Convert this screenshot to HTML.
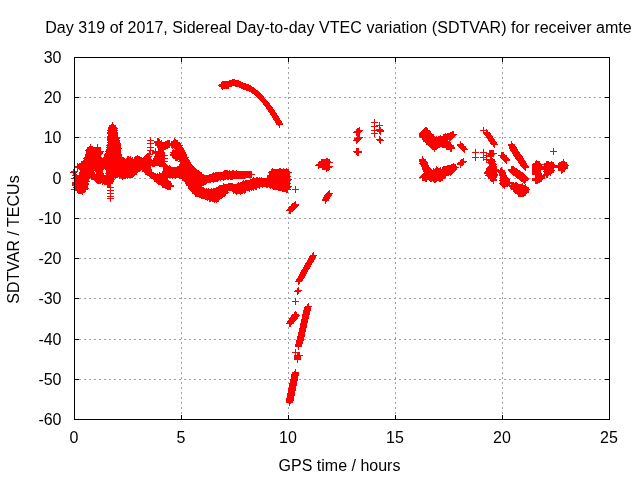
<!DOCTYPE html>
<html><head><meta charset="utf-8"><title>SDTVAR</title>
<style>html,body{margin:0;padding:0;background:#fff}body{width:640px;height:480px;overflow:hidden}</style>
</head><body>
<svg width="640" height="480" viewBox="0 0 640 480" style="display:block">
<rect width="640" height="480" fill="#fff"/>
<path d="M181.5 57V420M288.5 57V420M395.5 57V420M502.5 57V420M74 97.5H610M74 137.5H610M74 178.5H610M74 218.5H610M74 258.5H610M74 298.5H610M74 339.5H610M74 379.5H610" stroke="#a0a0a0" stroke-width="1" stroke-dasharray="2 3" fill="none" shape-rendering="crispEdges"/>
<path d="M74.5 420v-5M74.5 57v5M181.5 420v-5M181.5 57v5M288.5 420v-5M288.5 57v5M395.5 420v-5M395.5 57v5M502.5 420v-5M502.5 57v5M609.5 420v-5M609.5 57v5M74 57.5h5M610 57.5h-5M74 97.5h5M610 97.5h-5M74 137.5h5M610 137.5h-5M74 178.5h5M610 178.5h-5M74 218.5h5M610 218.5h-5M74 258.5h5M610 258.5h-5M74 298.5h5M610 298.5h-5M74 339.5h5M610 339.5h-5M74 379.5h5M610 379.5h-5M74 419.5h5M610 419.5h-5" stroke="#000" stroke-width="1" fill="none" shape-rendering="crispEdges"/>
<path d="M74 179.5h7M77.5 176v7M74 182.5h7M77.5 179v7M74 185.5h7M77.5 182v7M74 188.5h7M77.5 185v7M75 178.5h7M78.5 175v7M75 183.5h7M78.5 180v7M75 187.5h7M78.5 184v7M76 166.5h7M79.5 163v7M76 177.5h7M79.5 174v7M76 189.5h7M79.5 186v7M77 167.5h7M80.5 164v7M78 165.5h7M81.5 162v7M78 175.5h7M81.5 172v7M78 180.5h7M81.5 177v7M78 184.5h7M81.5 181v7M78 190.5h7M81.5 187v7M79 169.5h7M82.5 166v7M79 176.5h7M82.5 173v7M79 181.5h7M82.5 178v7M79 186.5h7M82.5 183v7M80 163.5h7M83.5 160v7M80 170.5h7M83.5 167v7M80 185.5h7M83.5 182v7M81 162.5h7M84.5 159v7M81 171.5h7M84.5 168v7M81 179.5h7M84.5 176v7M82 161.5h7M85.5 158v7M82 166.5h7M85.5 163v7M82 174.5h7M85.5 171v7M83 167.5h7M86.5 164v7M83 175.5h7M86.5 172v7M84 157.5h7M87.5 154v7M84 170.5h7M87.5 167v7M85 154.5h7M88.5 151v7M85 159.5h7M88.5 156v7M85 165.5h7M88.5 162v7M85 176.5h7M88.5 173v7M86 150.5h7M89.5 147v7M86 158.5h7M89.5 155v7M86 163.5h7M89.5 160v7M86 169.5h7M89.5 166v7M87 148.5h7M90.5 145v7M87 153.5h7M90.5 150v7M87 164.5h7M90.5 161v7M87 171.5h7M90.5 168v7M88 149.5h7M91.5 146v7M88 160.5h7M91.5 157v7M88 170.5h7M91.5 167v7M88 175.5h7M91.5 172v7M89 154.5h7M92.5 151v7M89 165.5h7M92.5 162v7M89 174.5h7M92.5 171v7M90 155.5h7M93.5 152v7M90 161.5h7M93.5 158v7M90 166.5h7M93.5 163v7M90 176.5h7M93.5 173v7M91 151.5h7M94.5 148v7M91 156.5h7M94.5 153v7M92 159.5h7M95.5 156v7M92 167.5h7M95.5 164v7M92 177.5h7M95.5 174v7M93 152.5h7M96.5 149v7M93 160.5h7M96.5 157v7M93 168.5h7M96.5 165v7M93 175.5h7M96.5 172v7M94 153.5h7M97.5 150v7M94 161.5h7M97.5 158v7M94 169.5h7M97.5 166v7M94 176.5h7M97.5 173v7M95 151.5h7M98.5 148v7M95 163.5h7M98.5 160v7M95 179.5h7M98.5 176v7M96 158.5h7M99.5 155v7M96 164.5h7M99.5 161v7M96 170.5h7M99.5 167v7M97 159.5h7M100.5 156v7M97 165.5h7M100.5 162v7M97 177.5h7M100.5 174v7M98 168.5h7M101.5 165v7M98 176.5h7M101.5 173v7M99 161.5h7M102.5 158v7M99 178.5h7M102.5 175v7M100 160.5h7M103.5 157v7M100 166.5h7M103.5 163v7M100 180.5h7M103.5 177v7M101 159.5h7M104.5 156v7M102 163.5h7M105.5 160v7M102 179.5h7M105.5 176v7M103 157.5h7M106.5 154v7M103 164.5h7M106.5 161v7M103 168.5h7M106.5 165v7M103 176.5h7M106.5 173v7M103 181.5h7M106.5 178v7M104 156.5h7M107.5 153v7M104 165.5h7M107.5 162v7M104 175.5h7M107.5 172v7M104 182.5h7M107.5 179v7M105 153.5h7M108.5 150v7M105 158.5h7M108.5 155v7M105 167.5h7M108.5 164v7M106 149.5h7M109.5 146v7M106 160.5h7M109.5 157v7M106 169.5h7M109.5 166v7M106 177.5h7M109.5 174v7M107 145.5h7M110.5 142v7M107 151.5h7M110.5 148v7M107 161.5h7M110.5 158v7M107 170.5h7M110.5 167v7M107 178.5h7M110.5 175v7M108 127.5h7M111.5 124v7M108 130.5h7M111.5 127v7M108 133.5h7M111.5 130v7M108 136.5h7M111.5 133v7M108 139.5h7M111.5 136v7M108 143.5h7M111.5 140v7M108 154.5h7M111.5 151v7M108 162.5h7M111.5 159v7M108 171.5h7M111.5 168v7M109 125.5h7M112.5 122v7M109 129.5h7M112.5 126v7M109 134.5h7M112.5 131v7M109 138.5h7M112.5 135v7M109 144.5h7M112.5 141v7M109 150.5h7M112.5 147v7M109 155.5h7M112.5 152v7M109 164.5h7M112.5 161v7M109 173.5h7M112.5 170v7M110 140.5h7M113.5 137v7M110 147.5h7M113.5 144v7M110 156.5h7M113.5 153v7M110 165.5h7M113.5 162v7M110 174.5h7M113.5 171v7M111 148.5h7M114.5 145v7M111 158.5h7M114.5 155v7M111 166.5h7M114.5 163v7M112 137.5h7M115.5 134v7M112 142.5h7M115.5 139v7M112 151.5h7M115.5 148v7M112 159.5h7M115.5 156v7M112 168.5h7M115.5 165v7M113 141.5h7M116.5 138v7M113 152.5h7M116.5 149v7M113 160.5h7M116.5 157v7M113 169.5h7M116.5 166v7M114 153.5h7M117.5 150v7M114 162.5h7M117.5 159v7M114 170.5h7M117.5 167v7M115 155.5h7M118.5 152v7M115 163.5h7M118.5 160v7M115 172.5h7M118.5 169v7M116 157.5h7M119.5 154v7M116 164.5h7M119.5 161v7M116 173.5h7M119.5 170v7M117 158.5h7M120.5 155v7M117 166.5h7M120.5 163v7M117 174.5h7M120.5 171v7M118 159.5h7M121.5 156v7M118 167.5h7M121.5 164v7M119 162.5h7M122.5 159v7M119 168.5h7M122.5 165v7M119 175.5h7M122.5 172v7M120 163.5h7M123.5 160v7M120 170.5h7M123.5 167v7M121 171.5h7M124.5 168v7M122 164.5h7M125.5 161v7M122 174.5h7M125.5 171v7M123 161.5h7M126.5 158v7M123 165.5h7M126.5 162v7M124 160.5h7M127.5 157v7M124 166.5h7M127.5 163v7M124 172.5h7M127.5 169v7M125 168.5h7M128.5 165v7M126 162.5h7M129.5 159v7M126 169.5h7M129.5 166v7M126 173.5h7M129.5 170v7M127 161.5h7M130.5 158v7M127 174.5h7M130.5 171v7M128 163.5h7M131.5 160v7M128 170.5h7M131.5 167v7M129 165.5h7M132.5 162v7M130 166.5h7M133.5 163v7M130 172.5h7M133.5 169v7M131 161.5h7M134.5 158v7M131 171.5h7M134.5 168v7M132 160.5h7M135.5 157v7M132 167.5h7M135.5 164v7M133 159.5h7M136.5 156v7M134 163.5h7M137.5 160v7M134 169.5h7M137.5 166v7M135 164.5h7M138.5 161v7M136 159.5h7M139.5 156v7M136 165.5h7M139.5 162v7M137 160.5h7M140.5 157v7M139 161.5h7M142.5 158v7M139 166.5h7M142.5 163v7M140 162.5h7M143.5 159v7M140 167.5h7M143.5 164v7M141 159.5h7M144.5 156v7M141 168.5h7M144.5 165v7M142 158.5h7M145.5 155v7M143 157.5h7M146.5 154v7M143 163.5h7M146.5 160v7M143 169.5h7M146.5 166v7M144 162.5h7M147.5 159v7M144 170.5h7M147.5 167v7M145 164.5h7M148.5 161v7M145 171.5h7M148.5 168v7M146 160.5h7M149.5 157v7M146 173.5h7M149.5 170v7M147 165.5h7M150.5 162v7M147 174.5h7M150.5 171v7M149 175.5h7M152.5 172v7M150 176.5h7M153.5 173v7M151 160.5h7M154.5 157v7M151 177.5h7M154.5 174v7M152 151.5h7M155.5 148v7M152 161.5h7M155.5 158v7M153 162.5h7M156.5 159v7M153 178.5h7M156.5 175v7M154 141.5h7M157.5 138v7M154 156.5h7M157.5 153v7M154 179.5h7M157.5 176v7M155 142.5h7M158.5 139v7M155 145.5h7M158.5 142v7M155 152.5h7M158.5 149v7M155 157.5h7M158.5 154v7M155 177.5h7M158.5 174v7M156 143.5h7M159.5 140v7M156 151.5h7M159.5 148v7M156 158.5h7M159.5 155v7M156 181.5h7M159.5 178v7M157 160.5h7M160.5 157v7M157 176.5h7M160.5 173v7M158 144.5h7M161.5 141v7M158 161.5h7M161.5 158v7M158 180.5h7M161.5 177v7M159 145.5h7M162.5 142v7M159 175.5h7M162.5 172v7M159 182.5h7M162.5 179v7M160 146.5h7M163.5 143v7M160 165.5h7M163.5 162v7M160 173.5h7M163.5 170v7M160 181.5h7M163.5 178v7M161 174.5h7M164.5 171v7M161 184.5h7M164.5 181v7M162 144.5h7M165.5 141v7M162 177.5h7M165.5 174v7M162 185.5h7M165.5 182v7M163 168.5h7M166.5 165v7M164 143.5h7M167.5 140v7M164 169.5h7M167.5 166v7M164 183.5h7M167.5 180v7M165 170.5h7M168.5 167v7M165 184.5h7M168.5 181v7M166 144.5h7M169.5 141v7M166 172.5h7M169.5 169v7M166 185.5h7M169.5 182v7M167 173.5h7M170.5 170v7M168 174.5h7M171.5 171v7M169 144.5h7M172.5 141v7M169 170.5h7M172.5 167v7M170 143.5h7M173.5 140v7M171 142.5h7M174.5 139v7M171 153.5h7M174.5 150v7M171 171.5h7M174.5 168v7M172 146.5h7M175.5 143v7M172 150.5h7M175.5 147v7M172 154.5h7M175.5 151v7M172 172.5h7M175.5 169v7M173 147.5h7M176.5 144v7M173 155.5h7M176.5 152v7M173 170.5h7M176.5 167v7M174 148.5h7M177.5 145v7M174 174.5h7M177.5 171v7M175 151.5h7M178.5 148v7M175 169.5h7M178.5 166v7M176 152.5h7M179.5 149v7M176 156.5h7M179.5 153v7M176 173.5h7M179.5 170v7M177 155.5h7M180.5 152v7M177 166.5h7M180.5 163v7M178 150.5h7M181.5 147v7M178 157.5h7M181.5 154v7M178 167.5h7M181.5 164v7M178 172.5h7M181.5 169v7M179 159.5h7M182.5 156v7M179 168.5h7M182.5 165v7M179 175.5h7M182.5 172v7M180 154.5h7M183.5 151v7M180 160.5h7M183.5 157v7M180 170.5h7M183.5 167v7M180 176.5h7M183.5 173v7M181 161.5h7M184.5 158v7M181 177.5h7M184.5 174v7M182 163.5h7M185.5 160v7M182 169.5h7M185.5 166v7M182 179.5h7M185.5 176v7M183 164.5h7M186.5 161v7M183 171.5h7M186.5 168v7M183 180.5h7M186.5 177v7M184 165.5h7M187.5 162v7M184 172.5h7M187.5 169v7M184 181.5h7M187.5 178v7M185 173.5h7M188.5 170v7M186 166.5h7M189.5 163v7M186 175.5h7M189.5 172v7M186 182.5h7M189.5 179v7M187 167.5h7M190.5 164v7M187 176.5h7M190.5 173v7M187 183.5h7M190.5 180v7M188 168.5h7M191.5 165v7M188 177.5h7M191.5 174v7M188 184.5h7M191.5 181v7M188 187.5h7M191.5 184v7M189 170.5h7M192.5 167v7M189 186.5h7M192.5 183v7M190 171.5h7M193.5 168v7M190 178.5h7M193.5 175v7M190 188.5h7M193.5 185v7M191 172.5h7M194.5 169v7M191 179.5h7M194.5 176v7M191 190.5h7M194.5 187v7M192 174.5h7M195.5 171v7M192 180.5h7M195.5 177v7M192 191.5h7M195.5 188v7M193 182.5h7M196.5 179v7M193 192.5h7M196.5 189v7M194 173.5h7M197.5 170v7M194 183.5h7M197.5 180v7M194 187.5h7M197.5 184v7M195 175.5h7M198.5 172v7M195 184.5h7M198.5 181v7M195 193.5h7M198.5 190v7M196 174.5h7M199.5 171v7M196 178.5h7M199.5 175v7M196 188.5h7M199.5 185v7M197 177.5h7M200.5 174v7M197 189.5h7M200.5 186v7M197 194.5h7M200.5 191v7M198 179.5h7M201.5 176v7M199 181.5h7M202.5 178v7M199 190.5h7M202.5 187v7M200 191.5h7M203.5 188v7M200 195.5h7M203.5 192v7M201 178.5h7M204.5 175v7M201 192.5h7M204.5 189v7M202 179.5h7M205.5 176v7M203 180.5h7M206.5 177v7M203 193.5h7M206.5 190v7M204 194.5h7M207.5 191v7M205 178.5h7M208.5 175v7M205 192.5h7M208.5 189v7M205 196.5h7M208.5 193v7M206 177.5h7M209.5 174v7M206 197.5h7M209.5 194v7M207 179.5h7M210.5 176v7M208 192.5h7M211.5 189v7M209 176.5h7M212.5 173v7M209 193.5h7M212.5 190v7M209 198.5h7M212.5 195v7M210 177.5h7M213.5 174v7M210 194.5h7M213.5 191v7M211 178.5h7M214.5 175v7M211 197.5h7M214.5 194v7M212 191.5h7M215.5 188v7M213 175.5h7M216.5 172v7M213 190.5h7M216.5 187v7M213 196.5h7M216.5 193v7M214 176.5h7M217.5 173v7M214 192.5h7M217.5 189v7M215 177.5h7M218.5 174v7M215 195.5h7M218.5 192v7M216 188.5h7M219.5 185v7M217 175.5h7M220.5 172v7M217 189.5h7M220.5 186v7M217 194.5h7M220.5 191v7M218 176.5h7M221.5 173v7M218 190.5h7M221.5 187v7M219 193.5h7M222.5 190v7M220 174.5h7M223.5 171v7M220 187.5h7M223.5 184v7M221 175.5h7M224.5 172v7M221 188.5h7M224.5 185v7M222 176.5h7M225.5 173v7M222 189.5h7M225.5 186v7M224 174.5h7M227.5 171v7M224 187.5h7M227.5 184v7M225 175.5h7M228.5 172v7M226 186.5h7M229.5 183v7M228 174.5h7M231.5 171v7M228 187.5h7M231.5 184v7M229 175.5h7M232.5 172v7M229 188.5h7M232.5 185v7M230 189.5h7M233.5 186v7M232 174.5h7M235.5 171v7M232 187.5h7M235.5 184v7M233 188.5h7M236.5 185v7M234 186.5h7M237.5 183v7M234 190.5h7M237.5 187v7M236 189.5h7M239.5 186v7M237 185.5h7M240.5 182v7M238 186.5h7M241.5 183v7M239 184.5h7M242.5 181v7M239 190.5h7M242.5 187v7M240 189.5h7M243.5 186v7M241 185.5h7M244.5 182v7M243 183.5h7M246.5 180v7M244 184.5h7M247.5 181v7M245 185.5h7M248.5 182v7M246 187.5h7M249.5 184v7M247 182.5h7M250.5 179v7M248 183.5h7M251.5 180v7M249 186.5h7M252.5 183v7M250 181.5h7M253.5 178v7M251 182.5h7M254.5 179v7M252 185.5h7M255.5 182v7M254 181.5h7M257.5 178v7M255 182.5h7M258.5 179v7M256 183.5h7M259.5 180v7M258 181.5h7M261.5 178v7M259 182.5h7M262.5 179v7M260 183.5h7M263.5 180v7M262 181.5h7M265.5 178v7M263 182.5h7M266.5 179v7M264 179.5h7M267.5 176v7M265 178.5h7M268.5 175v7M265 183.5h7M268.5 180v7M266 184.5h7M269.5 181v7M267 176.5h7M270.5 173v7M268 175.5h7M271.5 172v7M268 180.5h7M271.5 177v7M269 177.5h7M272.5 174v7M269 182.5h7M272.5 179v7M270 172.5h7M273.5 169v7M270 181.5h7M273.5 178v7M270 185.5h7M273.5 182v7M271 173.5h7M274.5 170v7M272 176.5h7M275.5 173v7M272 183.5h7M275.5 180v7M273 177.5h7M276.5 174v7M273 184.5h7M276.5 181v7M274 172.5h7M277.5 169v7M274 178.5h7M277.5 175v7M274 185.5h7M277.5 182v7M275 173.5h7M278.5 170v7M275 187.5h7M278.5 184v7M276 179.5h7M279.5 176v7M277 174.5h7M280.5 171v7M277 180.5h7M280.5 177v7M277 186.5h7M280.5 183v7M278 172.5h7M281.5 169v7M278 181.5h7M281.5 178v7M279 173.5h7M282.5 170v7M279 183.5h7M282.5 180v7M280 176.5h7M283.5 173v7M280 185.5h7M283.5 182v7M281 177.5h7M284.5 174v7M281 186.5h7M284.5 183v7M282 172.5h7M285.5 169v7M282 178.5h7M285.5 175v7M282 187.5h7M285.5 184v7M283 173.5h7M286.5 170v7M283 180.5h7M286.5 177v7M419 133.5h7M422.5 130v7M419 177.5h7M422.5 174v7M420 132.5h7M423.5 129v7M420 136.5h7M423.5 133v7M420 162.5h7M423.5 159v7M420 176.5h7M423.5 173v7M421 131.5h7M424.5 128v7M421 137.5h7M424.5 134v7M421 163.5h7M424.5 160v7M421 166.5h7M424.5 163v7M421 175.5h7M424.5 172v7M422 138.5h7M425.5 135v7M422 167.5h7M425.5 164v7M423 130.5h7M426.5 127v7M423 140.5h7M426.5 137v7M423 169.5h7M426.5 166v7M423 177.5h7M426.5 174v7M424 132.5h7M427.5 129v7M424 141.5h7M427.5 138v7M424 170.5h7M427.5 167v7M425 133.5h7M428.5 130v7M425 142.5h7M428.5 139v7M425 171.5h7M428.5 168v7M425 176.5h7M428.5 173v7M426 134.5h7M429.5 131v7M426 173.5h7M429.5 170v7M427 136.5h7M430.5 133v7M427 143.5h7M430.5 140v7M427 174.5h7M430.5 171v7M428 137.5h7M431.5 134v7M428 144.5h7M431.5 141v7M428 177.5h7M431.5 174v7M429 138.5h7M432.5 135v7M429 145.5h7M432.5 142v7M430 172.5h7M433.5 169v7M430 178.5h7M433.5 175v7M431 139.5h7M434.5 136v7M431 146.5h7M434.5 143v7M431 173.5h7M434.5 170v7M432 140.5h7M435.5 137v7M432 171.5h7M435.5 168v7M432 176.5h7M435.5 173v7M433 141.5h7M436.5 138v7M433 177.5h7M436.5 174v7M434 170.5h7M437.5 167v7M435 142.5h7M438.5 139v7M435 172.5h7M438.5 169v7M436 140.5h7M439.5 137v7M436 171.5h7M439.5 168v7M437 139.5h7M440.5 136v7M437 143.5h7M440.5 140v7M437 174.5h7M440.5 171v7M438 175.5h7M441.5 172v7M439 141.5h7M442.5 138v7M439 176.5h7M442.5 173v7M440 138.5h7M443.5 135v7M440 144.5h7M443.5 141v7M440 170.5h7M443.5 167v7M441 139.5h7M444.5 136v7M441 169.5h7M444.5 166v7M442 137.5h7M445.5 134v7M442 143.5h7M445.5 140v7M442 171.5h7M445.5 168v7M443 145.5h7M446.5 142v7M444 136.5h7M447.5 133v7M444 144.5h7M447.5 141v7M444 170.5h7M447.5 167v7M445 168.5h7M448.5 165v7M445 172.5h7M448.5 169v7M446 146.5h7M449.5 143v7M447 135.5h7M450.5 132v7M447 147.5h7M450.5 144v7M447 169.5h7M450.5 166v7M448 136.5h7M451.5 133v7M448 148.5h7M451.5 145v7M448 167.5h7M451.5 164v7M449 168.5h7M452.5 165v7M450 134.5h7M453.5 131v7M484 172.5h7M487.5 169v7M485 171.5h7M488.5 168v7M486 169.5h7M489.5 166v7M486 173.5h7M489.5 170v7M487 168.5h7M490.5 165v7M487 175.5h7M490.5 172v7M488 153.5h7M491.5 150v7M488 161.5h7M491.5 158v7M488 167.5h7M491.5 164v7M488 176.5h7M491.5 173v7M489 163.5h7M492.5 160v7M489 172.5h7M492.5 169v7M489 177.5h7M492.5 174v7M490 171.5h7M493.5 168v7M493 171.5h7M496.5 168v7M497 171.5h7M500.5 168v7M498 172.5h7M501.5 169v7M499 173.5h7M502.5 170v7M500 175.5h7M503.5 172v7M500 178.5h7M503.5 175v7M500 181.5h7M503.5 178v7M500 184.5h7M503.5 181v7M501 177.5h7M504.5 174v7M501 182.5h7M504.5 179v7M502 183.5h7M505.5 180v7M505 182.5h7M508.5 179v7M506 183.5h7M509.5 180v7M508 185.5h7M511.5 182v7M509 186.5h7M512.5 183v7M510 187.5h7M513.5 184v7M512 188.5h7M515.5 185v7M513 186.5h7M516.5 183v7M513 190.5h7M516.5 187v7M514 189.5h7M517.5 186v7M515 192.5h7M518.5 189v7M516 187.5h7M519.5 184v7M516 193.5h7M519.5 190v7M517 188.5h7M520.5 185v7M519 189.5h7M522.5 186v7M520 190.5h7M523.5 187v7M521 188.5h7M524.5 185v7M532 164.5h7M535.5 161v7M532 167.5h7M535.5 164v7M532 170.5h7M535.5 167v7M532 173.5h7M535.5 170v7M532 178.5h7M535.5 175v7M533 165.5h7M536.5 162v7M533 169.5h7M536.5 166v7M533 174.5h7M536.5 171v7M533 179.5h7M536.5 176v7M535 175.5h7M538.5 172v7M536 166.5h7M539.5 163v7M536 176.5h7M539.5 173v7M537 167.5h7M540.5 164v7M537 177.5h7M540.5 174v7M541 166.5h7M544.5 163v7M541 169.5h7M544.5 166v7M542 167.5h7M545.5 164v7M543 168.5h7M546.5 165v7M544 164.5h7M547.5 161v7M544 171.5h7M547.5 168v7M545 172.5h7M548.5 169v7M546 165.5h7M549.5 162v7M547 166.5h7M550.5 163v7M548 167.5h7M551.5 164v7M550 165.5h7M553.5 162v7M555 166.5h7M558.5 163v7M556 165.5h7M559.5 162v7M557 167.5h7M560.5 164v7M558 169.5h7M561.5 166v7M559 164.5h7M562.5 161v7M560 163.5h7M563.5 160v7M561 165.5h7M564.5 162v7M79 189.5h7M82.5 186v7M81 183.5h7M84.5 180v7M81 187.5h7M84.5 184v7M82 178.5h7M85.5 175v7M82 181.5h7M85.5 178v7M84 177.5h7M87.5 174v7M95 154.5h7M98.5 151v7M95 174.5h7M98.5 171v7M96 152.5h7M99.5 149v7M105 182.5h7M108.5 179v7M107 181.5h7M110.5 178v7M108 128.5h7M111.5 125v7M108 131.5h7M111.5 128v7M108 132.5h7M111.5 129v7M108 135.5h7M111.5 132v7M108 176.5h7M111.5 173v7M109 126.5h7M112.5 123v7M112 146.5h7M115.5 143v7M113 145.5h7M116.5 142v7M114 148.5h7M117.5 145v7M133 170.5h7M136.5 167v7M134 158.5h7M137.5 155v7M144 156.5h7M147.5 153v7M147 161.5h7M150.5 158v7M152 153.5h7M155.5 150v7M157 151.5h7M160.5 148v7M157 155.5h7M160.5 152v7M158 147.5h7M161.5 144v7M161 179.5h7M164.5 176v7M163 175.5h7M166.5 172v7M164 186.5h7M167.5 183v7M165 143.5h7M168.5 140v7M173 143.5h7M176.5 140v7M174 144.5h7M177.5 141v7M175 145.5h7M178.5 142v7M177 148.5h7M180.5 145v7M179 152.5h7M182.5 149v7M181 157.5h7M184.5 154v7M182 159.5h7M185.5 156v7M198 182.5h7M201.5 179v7M214 198.5h7M217.5 195v7M218 195.5h7M221.5 192v7M220 192.5h7M223.5 189v7M226 174.5h7M229.5 171v7M227 174.5h7M230.5 171v7M230 174.5h7M233.5 171v7M231 174.5h7M234.5 171v7M233 174.5h7M236.5 171v7M233 191.5h7M236.5 188v7M234 174.5h7M237.5 171v7M242 188.5h7M245.5 185v7M282 182.5h7M285.5 179v7M282 188.5h7M285.5 185v7M283 184.5h7M286.5 181v7M432 145.5h7M435.5 142v7M433 146.5h7M436.5 143v7M441 174.5h7M444.5 171v7M443 138.5h7M446.5 135v7M446 171.5h7M449.5 168v7M449 135.5h7M452.5 132v7M449 170.5h7M452.5 167v7M450 166.5h7M453.5 163v7M450 169.5h7M453.5 166v7M451 167.5h7M454.5 164v7M488 154.5h7M491.5 151v7M488 162.5h7M491.5 159v7M489 153.5h7M492.5 150v7M489 164.5h7M492.5 161v7M489 178.5h7M492.5 175v7M490 166.5h7M493.5 163v7M491 169.5h7M494.5 166v7M500 179.5h7M503.5 176v7M504 182.5h7M507.5 179v7M518 193.5h7M521.5 190v7M520 192.5h7M523.5 189v7M522 188.5h7M525.5 185v7M522 191.5h7M525.5 188v7M532 168.5h7M535.5 165v7M532 171.5h7M535.5 168v7M532 180.5h7M535.5 177v7M534 172.5h7M537.5 169v7M544 173.5h7M547.5 170v7M546 170.5h7M549.5 167v7M549 166.5h7M552.5 163v7M558 170.5h7M561.5 167v7M559 168.5h7M562.5 165v7M74 180.5h7M77.5 177v7M74 181.5h7M77.5 178v7M74 184.5h7M77.5 181v7M74 186.5h7M77.5 183v7M74 189.5h7M77.5 186v7M75 189.5h7M78.5 186v7M76 190.5h7M79.5 187v7M77 168.5h7M80.5 165v7M77 176.5h7M80.5 173v7M77 189.5h7M80.5 186v7M79 164.5h7M82.5 161v7M79 190.5h7M82.5 187v7M80 177.5h7M83.5 174v7M80 188.5h7M83.5 185v7M80 189.5h7M83.5 186v7M81 182.5h7M84.5 179v7M81 184.5h7M84.5 181v7M81 186.5h7M84.5 183v7M81 188.5h7M84.5 185v7M82 180.5h7M85.5 177v7M83 160.5h7M86.5 157v7M85 155.5h7M88.5 152v7M85 156.5h7M88.5 153v7M85 172.5h7M88.5 169v7M86 151.5h7M89.5 148v7M86 152.5h7M89.5 149v7M86 173.5h7M89.5 170v7M89 150.5h7M92.5 147v7M89 176.5h7M92.5 173v7M91 160.5h7M94.5 157v7M91 164.5h7M94.5 161v7M91 177.5h7M94.5 174v7M92 151.5h7M95.5 148v7M93 178.5h7M96.5 175v7M94 151.5h7M97.5 148v7M94 155.5h7M97.5 152v7M94 178.5h7M97.5 175v7M96 151.5h7M99.5 148v7M96 153.5h7M99.5 150v7M96 171.5h7M99.5 168v7M96 172.5h7M99.5 169v7M96 173.5h7M99.5 170v7M96 178.5h7M99.5 175v7M97 179.5h7M100.5 176v7M98 162.5h7M101.5 159v7M98 167.5h7M101.5 164v7M98 179.5h7M101.5 176v7M99 177.5h7M102.5 174v7M99 180.5h7M102.5 177v7M105 175.5h7M108.5 172v7M106 150.5h7M109.5 147v7M106 152.5h7M109.5 149v7M106 180.5h7M109.5 177v7M106 182.5h7M109.5 179v7M107 146.5h7M110.5 143v7M107 147.5h7M110.5 144v7M107 148.5h7M110.5 145v7M107 157.5h7M110.5 154v7M107 166.5h7M110.5 163v7M107 179.5h7M110.5 176v7M108 137.5h7M111.5 134v7M108 140.5h7M111.5 137v7M108 141.5h7M111.5 138v7M108 142.5h7M111.5 139v7M109 175.5h7M112.5 172v7M109 177.5h7M112.5 174v7M110 128.5h7M113.5 125v7M110 130.5h7M113.5 127v7M110 131.5h7M113.5 128v7M110 132.5h7M113.5 129v7M110 133.5h7M113.5 130v7M110 176.5h7M113.5 173v7M111 134.5h7M114.5 131v7M111 135.5h7M114.5 132v7M111 136.5h7M114.5 133v7M111 172.5h7M114.5 169v7M112 138.5h7M115.5 135v7M112 139.5h7M115.5 136v7M112 140.5h7M115.5 137v7M112 143.5h7M115.5 140v7M112 144.5h7M115.5 141v7M113 147.5h7M116.5 144v7M113 149.5h7M116.5 146v7M113 150.5h7M116.5 147v7M114 151.5h7M117.5 148v7M114 173.5h7M117.5 170v7M115 154.5h7M118.5 151v7M118 174.5h7M121.5 171v7M120 174.5h7M123.5 171v7M120 175.5h7M123.5 172v7M121 174.5h7M124.5 171v7M122 169.5h7M125.5 166v7M122 175.5h7M125.5 172v7M123 174.5h7M126.5 171v7M124 174.5h7M127.5 171v7M125 160.5h7M128.5 157v7M125 174.5h7M128.5 171v7M126 160.5h7M129.5 157v7M127 167.5h7M130.5 164v7M128 161.5h7M131.5 158v7M128 173.5h7M131.5 170v7M129 161.5h7M132.5 158v7M129 173.5h7M132.5 170v7M129 174.5h7M132.5 171v7M130 162.5h7M133.5 159v7M134 168.5h7M137.5 165v7M135 159.5h7M138.5 156v7M138 160.5h7M141.5 157v7M141 164.5h7M144.5 161v7M142 165.5h7M145.5 162v7M143 166.5h7M146.5 163v7M143 171.5h7M146.5 168v7M144 172.5h7M147.5 169v7M145 162.5h7M148.5 159v7M145 169.5h7M148.5 166v7M145 172.5h7M148.5 169v7M146 163.5h7M149.5 160v7M146 164.5h7M149.5 161v7M148 173.5h7M151.5 170v7M151 162.5h7M154.5 159v7M152 152.5h7M155.5 149v7M152 176.5h7M155.5 173v7M154 161.5h7M157.5 158v7M154 177.5h7M157.5 174v7M155 144.5h7M158.5 141v7M155 154.5h7M158.5 151v7M155 161.5h7M158.5 158v7M155 180.5h7M158.5 177v7M156 153.5h7M159.5 150v7M156 156.5h7M159.5 153v7M156 161.5h7M159.5 158v7M156 162.5h7M159.5 159v7M156 176.5h7M159.5 173v7M157 152.5h7M160.5 149v7M157 154.5h7M160.5 151v7M157 157.5h7M160.5 154v7M157 159.5h7M160.5 156v7M157 181.5h7M160.5 178v7M158 149.5h7M161.5 146v7M159 148.5h7M162.5 145v7M160 145.5h7M163.5 142v7M160 147.5h7M163.5 144v7M162 172.5h7M165.5 169v7M162 176.5h7M165.5 173v7M162 180.5h7M165.5 177v7M163 144.5h7M166.5 141v7M163 181.5h7M166.5 178v7M163 185.5h7M166.5 182v7M165 169.5h7M168.5 166v7M165 186.5h7M168.5 183v7M166 169.5h7M169.5 166v7M166 174.5h7M169.5 171v7M166 186.5h7M169.5 183v7M167 170.5h7M170.5 167v7M168 170.5h7M171.5 167v7M169 173.5h7M172.5 170v7M170 170.5h7M173.5 167v7M170 173.5h7M173.5 170v7M171 154.5h7M174.5 151v7M171 155.5h7M174.5 152v7M171 173.5h7M174.5 170v7M172 142.5h7M175.5 139v7M172 151.5h7M175.5 148v7M172 152.5h7M175.5 149v7M172 156.5h7M175.5 153v7M172 170.5h7M175.5 167v7M172 174.5h7M175.5 171v7M173 173.5h7M176.5 170v7M174 155.5h7M177.5 152v7M174 169.5h7M177.5 166v7M175 146.5h7M178.5 143v7M175 173.5h7M178.5 170v7M176 158.5h7M179.5 155v7M177 171.5h7M180.5 168v7M178 166.5h7M181.5 163v7M179 153.5h7M182.5 150v7M179 161.5h7M182.5 158v7M180 155.5h7M183.5 152v7M180 162.5h7M183.5 159v7M181 158.5h7M184.5 155v7M181 173.5h7M184.5 170v7M182 160.5h7M185.5 157v7M182 174.5h7M185.5 171v7M183 161.5h7M186.5 158v7M183 162.5h7M186.5 159v7M185 178.5h7M188.5 175v7M187 185.5h7M190.5 182v7M189 181.5h7M192.5 178v7M189 185.5h7M192.5 182v7M191 191.5h7M194.5 188v7M192 171.5h7M195.5 168v7M192 192.5h7M195.5 189v7M193 172.5h7M196.5 169v7M193 174.5h7M196.5 171v7M193 186.5h7M196.5 183v7M193 193.5h7M196.5 190v7M194 193.5h7M197.5 190v7M196 185.5h7M199.5 182v7M196 193.5h7M199.5 190v7M197 175.5h7M200.5 172v7M197 176.5h7M200.5 173v7M197 187.5h7M200.5 184v7M198 183.5h7M201.5 180v7M198 184.5h7M201.5 181v7M198 194.5h7M201.5 191v7M199 194.5h7M202.5 191v7M201 194.5h7M204.5 191v7M202 195.5h7M205.5 192v7M203 178.5h7M206.5 175v7M203 196.5h7M206.5 193v7M204 178.5h7M207.5 175v7M204 192.5h7M207.5 189v7M204 195.5h7M207.5 192v7M206 179.5h7M209.5 176v7M206 192.5h7M209.5 189v7M207 177.5h7M210.5 174v7M207 192.5h7M210.5 189v7M207 197.5h7M210.5 194v7M208 177.5h7M211.5 174v7M208 197.5h7M211.5 194v7M209 178.5h7M212.5 175v7M210 197.5h7M213.5 194v7M211 176.5h7M214.5 173v7M211 191.5h7M214.5 188v7M212 175.5h7M215.5 172v7M212 177.5h7M215.5 174v7M212 197.5h7M215.5 194v7M213 177.5h7M216.5 174v7M213 197.5h7M216.5 194v7M215 175.5h7M218.5 172v7M215 189.5h7M218.5 186v7M215 197.5h7M218.5 194v7M216 175.5h7M219.5 172v7M218 188.5h7M221.5 185v7M219 175.5h7M222.5 172v7M219 188.5h7M222.5 185v7M219 194.5h7M222.5 191v7M220 176.5h7M223.5 173v7M220 193.5h7M223.5 190v7M221 191.5h7M224.5 188v7M222 174.5h7M225.5 171v7M222 187.5h7M225.5 184v7M222 190.5h7M225.5 187v7M223 174.5h7M226.5 171v7M223 187.5h7M226.5 184v7M225 187.5h7M228.5 184v7M227 186.5h7M230.5 183v7M229 186.5h7M232.5 183v7M230 187.5h7M233.5 184v7M231 187.5h7M234.5 184v7M232 190.5h7M235.5 187v7M235 186.5h7M238.5 183v7M235 190.5h7M238.5 187v7M237 189.5h7M240.5 186v7M238 189.5h7M241.5 186v7M240 184.5h7M243.5 181v7M241 189.5h7M244.5 186v7M242 184.5h7M245.5 181v7M242 189.5h7M245.5 186v7M245 183.5h7M248.5 180v7M246 183.5h7M249.5 180v7M247 186.5h7M250.5 183v7M248 186.5h7M251.5 183v7M249 182.5h7M252.5 179v7M250 184.5h7M253.5 181v7M250 186.5h7M253.5 183v7M251 185.5h7M254.5 182v7M252 181.5h7M255.5 178v7M253 181.5h7M256.5 178v7M253 185.5h7M256.5 182v7M254 184.5h7M257.5 181v7M255 184.5h7M258.5 181v7M256 181.5h7M259.5 178v7M257 181.5h7M260.5 178v7M257 183.5h7M260.5 180v7M258 183.5h7M261.5 180v7M260 181.5h7M263.5 178v7M261 181.5h7M264.5 178v7M261 183.5h7M264.5 180v7M262 183.5h7M265.5 180v7M264 183.5h7M267.5 180v7M267 184.5h7M270.5 181v7M268 184.5h7M271.5 181v7M269 184.5h7M272.5 181v7M271 179.5h7M274.5 176v7M271 184.5h7M274.5 181v7M272 172.5h7M275.5 169v7M272 186.5h7M275.5 183v7M273 172.5h7M276.5 169v7M273 186.5h7M276.5 183v7M275 182.5h7M278.5 179v7M276 172.5h7M279.5 169v7M276 186.5h7M279.5 183v7M277 172.5h7M280.5 169v7M278 186.5h7M281.5 183v7M279 187.5h7M282.5 184v7M280 172.5h7M283.5 169v7M280 187.5h7M283.5 184v7M281 172.5h7M284.5 169v7M282 174.5h7M285.5 171v7M282 175.5h7M285.5 172v7M282 176.5h7M285.5 173v7M282 179.5h7M285.5 176v7M282 181.5h7M285.5 178v7M282 183.5h7M285.5 180v7M282 185.5h7M285.5 182v7M283 172.5h7M286.5 169v7M283 177.5h7M286.5 174v7M283 186.5h7M286.5 183v7M283 187.5h7M286.5 184v7M283 188.5h7M286.5 185v7M419 134.5h7M422.5 131v7M419 135.5h7M422.5 132v7M421 164.5h7M424.5 161v7M421 165.5h7M424.5 162v7M421 177.5h7M424.5 174v7M422 130.5h7M425.5 127v7M422 168.5h7M425.5 165v7M422 169.5h7M425.5 166v7M422 174.5h7M425.5 171v7M422 176.5h7M425.5 173v7M423 135.5h7M426.5 132v7M423 171.5h7M426.5 168v7M424 131.5h7M427.5 128v7M424 176.5h7M427.5 173v7M426 139.5h7M429.5 136v7M426 175.5h7M429.5 172v7M427 177.5h7M430.5 174v7M429 146.5h7M432.5 143v7M429 177.5h7M432.5 174v7M430 142.5h7M433.5 139v7M430 145.5h7M433.5 142v7M431 177.5h7M434.5 174v7M431 178.5h7M434.5 175v7M432 178.5h7M435.5 175v7M433 144.5h7M436.5 141v7M433 170.5h7M436.5 167v7M433 178.5h7M436.5 175v7M434 140.5h7M437.5 137v7M434 175.5h7M437.5 172v7M434 177.5h7M437.5 174v7M435 140.5h7M438.5 137v7M435 177.5h7M438.5 174v7M436 177.5h7M439.5 174v7M437 171.5h7M440.5 168v7M437 176.5h7M440.5 173v7M437 177.5h7M440.5 174v7M438 139.5h7M441.5 136v7M438 143.5h7M441.5 140v7M438 177.5h7M441.5 174v7M439 143.5h7M442.5 140v7M439 171.5h7M442.5 168v7M439 177.5h7M442.5 174v7M440 175.5h7M443.5 172v7M441 144.5h7M444.5 141v7M441 175.5h7M444.5 172v7M442 169.5h7M445.5 166v7M443 137.5h7M446.5 134v7M443 139.5h7M446.5 136v7M443 142.5h7M446.5 139v7M443 169.5h7M446.5 166v7M444 139.5h7M447.5 136v7M445 136.5h7M448.5 133v7M445 144.5h7M448.5 141v7M446 136.5h7M449.5 133v7M446 168.5h7M449.5 165v7M447 146.5h7M450.5 143v7M447 171.5h7M450.5 168v7M487 176.5h7M490.5 173v7M488 177.5h7M491.5 174v7M489 165.5h7M492.5 162v7M489 173.5h7M492.5 170v7M489 174.5h7M492.5 171v7M489 175.5h7M492.5 172v7M490 167.5h7M493.5 164v7M490 176.5h7M493.5 173v7M490 177.5h7M493.5 174v7M491 170.5h7M494.5 167v7M498 171.5h7M501.5 168v7M499 174.5h7M502.5 171v7M500 176.5h7M503.5 173v7M500 180.5h7M503.5 177v7M500 183.5h7M503.5 180v7M501 184.5h7M504.5 181v7M502 178.5h7M505.5 175v7M503 183.5h7M506.5 180v7M511 186.5h7M514.5 183v7M512 186.5h7M515.5 183v7M514 186.5h7M517.5 183v7M514 191.5h7M517.5 188v7M515 187.5h7M518.5 184v7M517 192.5h7M520.5 189v7M518 187.5h7M521.5 184v7M519 187.5h7M522.5 184v7M519 192.5h7M522.5 189v7M520 188.5h7M523.5 185v7M520 193.5h7M523.5 190v7M521 189.5h7M524.5 186v7M521 192.5h7M524.5 189v7M522 190.5h7M525.5 187v7M532 166.5h7M535.5 163v7M532 172.5h7M535.5 169v7M533 180.5h7M536.5 177v7M534 164.5h7M537.5 161v7M534 171.5h7M537.5 168v7M534 179.5h7M537.5 176v7M535 164.5h7M538.5 161v7M535 178.5h7M538.5 175v7M535 179.5h7M538.5 176v7M536 168.5h7M539.5 165v7M536 178.5h7M539.5 175v7M537 175.5h7M540.5 172v7M537 178.5h7M540.5 175v7M545 164.5h7M548.5 161v7M546 171.5h7M549.5 168v7M547 171.5h7M550.5 168v7M548 165.5h7M551.5 162v7M550 167.5h7M553.5 164v7M558 164.5h7M561.5 161v7M559 169.5h7M562.5 166v7M560 166.5h7M563.5 163v7M560 167.5h7M563.5 164v7M560 168.5h7M563.5 165v7M561 164.5h7M564.5 161v7M74 183.5h7M77.5 180v7M74 187.5h7M77.5 184v7M77 190.5h7M80.5 187v7M80 172.5h7M83.5 169v7M81 185.5h7M84.5 182v7M83 178.5h7M86.5 175v7M84 158.5h7M87.5 155v7M86 153.5h7M89.5 150v7M87 149.5h7M90.5 146v7M87 172.5h7M90.5 169v7M92 178.5h7M95.5 175v7M93 151.5h7M96.5 148v7M94 179.5h7M97.5 176v7M96 169.5h7M99.5 166v7M96 179.5h7M99.5 176v7M101 180.5h7M104.5 177v7M102 158.5h7M105.5 155v7M102 180.5h7M105.5 177v7M104 168.5h7M107.5 165v7M105 154.5h7M108.5 151v7M106 151.5h7M109.5 148v7M106 172.5h7M109.5 169v7M107 180.5h7M110.5 177v7M108 129.5h7M111.5 126v7M108 134.5h7M111.5 131v7M108 138.5h7M111.5 135v7M108 144.5h7M111.5 141v7M109 127.5h7M112.5 124v7M110 129.5h7M113.5 126v7M110 175.5h7M113.5 172v7M111 132.5h7M114.5 129v7M111 133.5h7M114.5 130v7M113 140.5h7M116.5 137v7M113 142.5h7M116.5 139v7M113 143.5h7M116.5 140v7M113 144.5h7M116.5 141v7M113 146.5h7M116.5 143v7M114 149.5h7M117.5 146v7M114 150.5h7M117.5 147v7M114 152.5h7M117.5 149v7M115 173.5h7M118.5 170v7M116 174.5h7M119.5 171v7M117 157.5h7M120.5 154v7M118 158.5h7M121.5 155v7M118 175.5h7M121.5 172v7M121 175.5h7M124.5 172v7M122 162.5h7M125.5 159v7M126 174.5h7M129.5 171v7M127 160.5h7M130.5 157v7M128 174.5h7M131.5 171v7M130 173.5h7M133.5 170v7M131 172.5h7M134.5 169v7M132 171.5h7M135.5 168v7M143 168.5h7M146.5 165v7M144 157.5h7M147.5 154v7M147 163.5h7M150.5 160v7M147 164.5h7M150.5 161v7M147 172.5h7M150.5 169v7M152 162.5h7M155.5 159v7M153 177.5h7M156.5 174v7M154 142.5h7M157.5 139v7M154 162.5h7M157.5 159v7M155 141.5h7M158.5 138v7M155 143.5h7M158.5 140v7M155 155.5h7M158.5 152v7M155 162.5h7M158.5 159v7M156 142.5h7M159.5 139v7M157 153.5h7M160.5 150v7M157 156.5h7M160.5 153v7M157 158.5h7M160.5 155v7M157 161.5h7M160.5 158v7M158 160.5h7M161.5 157v7M158 162.5h7M161.5 159v7M158 182.5h7M161.5 179v7M159 183.5h7M162.5 180v7M160 183.5h7M163.5 180v7M161 145.5h7M164.5 142v7M161 173.5h7M164.5 170v7M163 169.5h7M166.5 166v7M164 144.5h7M167.5 141v7M165 144.5h7M168.5 141v7M167 174.5h7M170.5 171v7M169 174.5h7M172.5 171v7M170 174.5h7M173.5 171v7M171 145.5h7M174.5 142v7M171 170.5h7M174.5 167v7M171 174.5h7M174.5 171v7M173 156.5h7M176.5 153v7M173 174.5h7M176.5 171v7M174 156.5h7M177.5 153v7M175 174.5h7M178.5 171v7M176 147.5h7M179.5 144v7M176 174.5h7M179.5 171v7M177 149.5h7M180.5 146v7M177 174.5h7M180.5 171v7M178 151.5h7M181.5 148v7M178 175.5h7M181.5 172v7M180 156.5h7M183.5 153v7M184 162.5h7M187.5 159v7M184 163.5h7M187.5 160v7M185 164.5h7M188.5 161v7M186 184.5h7M189.5 181v7M188 186.5h7M191.5 183v7M189 188.5h7M192.5 185v7M190 189.5h7M193.5 186v7M198 176.5h7M201.5 173v7M198 188.5h7M201.5 185v7M200 177.5h7M203.5 174v7M201 195.5h7M204.5 192v7M202 178.5h7M205.5 175v7M202 180.5h7M205.5 177v7M202 192.5h7M205.5 189v7M203 192.5h7M206.5 189v7M204 179.5h7M207.5 176v7M204 196.5h7M207.5 193v7M205 179.5h7M208.5 176v7M208 178.5h7M211.5 175v7M209 192.5h7M212.5 189v7M210 176.5h7M213.5 173v7M210 178.5h7M213.5 175v7M210 192.5h7M213.5 189v7M210 198.5h7M213.5 195v7M211 198.5h7M214.5 195v7M212 198.5h7M215.5 195v7M213 198.5h7M216.5 195v7M214 175.5h7M217.5 172v7M214 177.5h7M217.5 174v7M214 190.5h7M217.5 187v7M216 176.5h7M219.5 173v7M216 196.5h7M219.5 193v7M217 176.5h7M220.5 173v7M217 188.5h7M220.5 185v7M218 175.5h7M221.5 172v7M219 176.5h7M222.5 173v7M221 174.5h7M224.5 171v7M221 176.5h7M224.5 173v7M221 187.5h7M224.5 184v7M221 192.5h7M224.5 189v7M223 175.5h7M226.5 172v7M224 175.5h7M227.5 172v7M225 174.5h7M228.5 171v7M226 175.5h7M229.5 172v7M227 175.5h7M230.5 172v7M228 175.5h7M231.5 172v7M228 186.5h7M231.5 183v7M229 174.5h7M232.5 171v7M230 175.5h7M233.5 172v7M231 189.5h7M234.5 186v7M233 187.5h7M236.5 184v7M236 186.5h7M239.5 183v7M236 190.5h7M239.5 187v7M237 190.5h7M240.5 187v7M238 185.5h7M241.5 182v7M238 190.5h7M241.5 187v7M241 184.5h7M244.5 181v7M243 187.5h7M246.5 184v7M244 183.5h7M247.5 180v7M244 187.5h7M247.5 184v7M245 187.5h7M248.5 184v7M248 182.5h7M251.5 179v7M251 181.5h7M254.5 178v7M255 181.5h7M258.5 178v7M256 184.5h7M259.5 181v7M259 181.5h7M262.5 178v7M259 183.5h7M262.5 180v7M263 183.5h7M266.5 180v7M269 185.5h7M272.5 182v7M271 172.5h7M274.5 169v7M271 185.5h7M274.5 182v7M274 186.5h7M277.5 183v7M275 172.5h7M278.5 169v7M276 187.5h7M279.5 184v7M277 187.5h7M280.5 184v7M278 187.5h7M281.5 184v7M279 172.5h7M282.5 169v7M281 187.5h7M284.5 184v7M283 174.5h7M286.5 171v7M283 175.5h7M286.5 172v7M283 176.5h7M286.5 173v7M283 178.5h7M286.5 175v7M283 179.5h7M286.5 176v7M283 181.5h7M286.5 178v7M283 182.5h7M286.5 179v7M283 183.5h7M286.5 180v7M283 185.5h7M286.5 182v7M420 163.5h7M423.5 160v7M420 177.5h7M423.5 174v7M422 139.5h7M425.5 136v7M422 177.5h7M425.5 174v7M423 170.5h7M426.5 167v7M424 169.5h7M427.5 166v7M425 170.5h7M428.5 167v7M426 176.5h7M429.5 173v7M427 135.5h7M430.5 132v7M427 144.5h7M430.5 141v7M428 145.5h7M431.5 142v7M429 173.5h7M432.5 170v7M430 146.5h7M433.5 143v7M431 172.5h7M434.5 169v7M432 146.5h7M435.5 143v7M433 140.5h7M436.5 137v7M433 145.5h7M436.5 142v7M435 171.5h7M438.5 168v7M439 139.5h7M442.5 136v7M440 173.5h7M443.5 170v7M441 138.5h7M444.5 135v7M442 144.5h7M445.5 141v7M444 145.5h7M447.5 142v7M444 169.5h7M447.5 166v7M445 146.5h7M448.5 143v7M446 145.5h7M449.5 142v7M447 168.5h7M450.5 165v7M448 135.5h7M451.5 132v7M448 147.5h7M451.5 144v7M448 170.5h7M451.5 167v7M449 167.5h7M452.5 164v7M450 168.5h7M453.5 165v7M485 173.5h7M488.5 170v7M486 170.5h7M489.5 167v7M486 174.5h7M489.5 171v7M486 175.5h7M489.5 172v7M488 163.5h7M491.5 160v7M488 166.5h7M491.5 163v7M489 168.5h7M492.5 165v7M490 175.5h7M493.5 172v7M499 175.5h7M502.5 172v7M500 177.5h7M503.5 174v7M500 182.5h7M503.5 179v7M504 183.5h7M507.5 180v7M509 185.5h7M512.5 182v7M510 186.5h7M513.5 183v7M517 187.5h7M520.5 184v7M517 193.5h7M520.5 190v7M519 193.5h7M522.5 190v7M522 189.5h7M525.5 186v7M532 165.5h7M535.5 162v7M532 169.5h7M535.5 166v7M532 174.5h7M535.5 171v7M532 179.5h7M535.5 176v7M533 164.5h7M536.5 161v7M535 165.5h7M538.5 162v7M537 176.5h7M540.5 173v7M542 166.5h7M545.5 163v7M543 166.5h7M546.5 163v7M547 165.5h7M550.5 162v7M549 165.5h7M552.5 162v7M557 165.5h7M560.5 162v7M561 166.5h7M564.5 163v7M561 167.5h7M564.5 164v7M96 180.5h7M99.5 177v7M178 161.5h7M181.5 158v7M433 139.5h7M436.5 136v7M92 168.5h7M95.5 165v7M210 175.5h7M213.5 172v7M113 174.5h7M116.5 171v7M173 157.5h7M176.5 154v7M513 185.5h7M516.5 182v7M536 164.5h7M539.5 161v7M200 182.5h7M203.5 179v7M562 165.5h7M565.5 162v7M437 178.5h7M440.5 175v7M226 173.5h7M229.5 170v7M444 146.5h7M447.5 143v7M164 168.5h7M167.5 165v7M280 171.5h7M283.5 168v7M436 139.5h7M439.5 136v7M269 172.5h7M272.5 169v7M169 145.5h7M172.5 142v7M422 178.5h7M425.5 175v7M161 165.5h7M164.5 162v7M284 183.5h7M287.5 180v7M487 153.5h7M490.5 150v7M547 172.5h7M550.5 169v7M510 188.5h7M513.5 185v7M240 175.5h7M243.5 172v7M223 173.5h7M226.5 170v7M264 184.5h7M267.5 181v7M97 173.5h7M100.5 170v7M215 198.5h7M218.5 195v7M159 163.5h7M162.5 160v7M241 190.5h7M244.5 187v7M486 168.5h7M489.5 165v7M228 176.5h7M231.5 173v7M544 174.5h7M547.5 171v7M171 141.5h7M174.5 138v7M487 160.5h7M490.5 157v7M92 150.5h7M95.5 147v7M148 162.5h7M151.5 159v7M132 159.5h7M135.5 156v7M114 146.5h7M117.5 143v7M177 175.5h7M180.5 172v7M155 181.5h7M158.5 178v7M107 142.5h7M110.5 139v7M205 191.5h7M208.5 188v7M224 173.5h7M227.5 170v7M170 152.5h7M173.5 149v7M111 128.5h7M114.5 125v7M244 174.5h7M247.5 171v7M158 163.5h7M161.5 160v7M174 157.5h7M177.5 154v7M210 179.5h7M213.5 176v7M82 184.5h7M85.5 181v7M199 195.5h7M202.5 192v7M131 160.5h7M134.5 157v7M163 145.5h7M166.5 142v7M487 162.5h7M490.5 159v7M229 173.5h7M232.5 170v7M264 178.5h7M267.5 175v7M224 176.5h7M227.5 173v7M176 175.5h7M179.5 172v7M158 159.5h7M161.5 156v7M188 167.5h7M191.5 164v7M113 138.5h7M116.5 135v7M490 179.5h7M493.5 176v7M110 127.5h7M113.5 124v7M284 176.5h7M287.5 173v7M153 158.5h7M156.5 155v7M108 179.5h7M111.5 176v7M533 163.5h7M536.5 160v7M95 180.5h7M98.5 177v7M536 179.5h7M539.5 176v7M271 186.5h7M274.5 183v7M548 170.5h7M551.5 167v7M82 183.5h7M85.5 180v7M172 157.5h7M175.5 154v7M446 137.5h7M449.5 134v7M250 187.5h7M253.5 184v7M523 189.5h7M526.5 186v7M129 160.5h7M132.5 157v7M93 179.5h7M96.5 176v7M235 174.5h7M238.5 171v7M114 144.5h7M117.5 141v7M208 191.5h7M211.5 188v7M281 188.5h7M284.5 185v7M423 167.5h7M426.5 164v7M160 184.5h7M163.5 181v7M102 181.5h7M105.5 178v7M114 145.5h7M117.5 142v7M506 182.5h7M509.5 179v7M279 188.5h7M282.5 185v7M159 184.5h7M162.5 181v7M280 188.5h7M283.5 185v7M112 175.5h7M115.5 172v7M491 174.5h7M494.5 171v7M256 185.5h7M259.5 182v7M210 191.5h7M213.5 188v7M73 178.5h7M76.5 175v7M284 180.5h7M287.5 177v7M159 174.5h7M162.5 171v7M170 154.5h7M173.5 151v7M167 185.5h7M170.5 182v7M561 168.5h7M564.5 165v7M182 157.5h7M185.5 154v7M164 181.5h7M167.5 178v7M441 137.5h7M444.5 134v7M419 159.5h7M422.5 156v7M419 136.5h7M422.5 133v7M104 155.5h7M107.5 152v7M195 173.5h7M198.5 170v7M212 178.5h7M215.5 175v7M225 186.5h7M228.5 183v7M114 147.5h7M117.5 144v7M213 178.5h7M216.5 175v7M142 170.5h7M145.5 167v7M519 186.5h7M522.5 183v7M107 139.5h7M110.5 136v7M213 199.5h7M216.5 196v7M158 155.5h7M161.5 152v7M522 187.5h7M525.5 184v7M423 178.5h7M426.5 175v7M165 183.5h7M168.5 180v7M427 178.5h7M430.5 175v7M94 180.5h7M97.5 177v7M124 159.5h7M127.5 156v7M512 185.5h7M515.5 182v7M156 163.5h7M159.5 160v7M116 175.5h7M119.5 172v7M491 175.5h7M494.5 172v7M114 143.5h7M117.5 140v7M256 180.5h7M259.5 177v7M426 177.5h7M429.5 174v7M105 151.5h7M108.5 148v7M107 132.5h7M110.5 129v7M166 143.5h7M169.5 140v7M133 171.5h7M136.5 168v7M151 178.5h7M154.5 175v7M252 186.5h7M255.5 183v7M490 180.5h7M493.5 177v7M188 188.5h7M191.5 185v7M186 185.5h7M189.5 182v7M284 187.5h7M287.5 184v7M437 138.5h7M440.5 135v7M421 162.5h7M424.5 159v7M269 174.5h7M272.5 171v7M97 174.5h7M100.5 171v7M178 159.5h7M181.5 156v7M189 168.5h7M192.5 165v7M229 176.5h7M232.5 173v7M487 167.5h7M490.5 164v7M488 178.5h7M491.5 175v7M242 174.5h7M245.5 171v7M83 158.5h7M86.5 155v7M259 184.5h7M262.5 181v7M267 185.5h7M270.5 182v7M74 178.5h7M77.5 175v7M433 169.5h7M436.5 166v7M254 180.5h7M257.5 177v7M437 170.5h7M440.5 167v7M534 180.5h7M537.5 177v7M283 171.5h7M286.5 168v7M253 186.5h7M256.5 183v7M88 173.5h7M91.5 170v7M447 145.5h7M450.5 142v7M222 173.5h7M225.5 170v7M85 150.5h7M88.5 147v7M203 191.5h7M206.5 188v7M241 174.5h7M244.5 171v7M149 163.5h7M152.5 160v7M159 161.5h7M162.5 158v7M150 163.5h7M153.5 160v7M204 197.5h7M207.5 194v7M541 175.5h7M544.5 172v7M548 164.5h7M551.5 161v7M431 148.5h7M434.5 145v7M154 176.5h7M157.5 173v7M166 168.5h7M169.5 165v7M436 178.5h7M439.5 175v7M499 183.5h7M502.5 180v7M230 173.5h7M233.5 170v7M176 145.5h7M179.5 142v7M158 143.5h7M161.5 140v7M162 146.5h7M165.5 143v7M99 181.5h7M102.5 178v7M440 169.5h7M443.5 166v7M249 181.5h7M252.5 178v7M220 186.5h7M223.5 183v7M217 177.5h7M220.5 174v7M163 167.5h7M166.5 164v7M499 180.5h7M502.5 177v7M202 181.5h7M205.5 178v7M124 175.5h7M127.5 172v7M78 164.5h7M81.5 161v7M167 186.5h7M170.5 183v7M238 174.5h7M241.5 171v7M227 176.5h7M230.5 173v7M107 144.5h7M110.5 141v7M423 141.5h7M426.5 138v7M154 180.5h7M157.5 177v7M488 159.5h7M491.5 156v7M119 176.5h7M122.5 173v7M90 150.5h7M93.5 147v7M198 175.5h7M201.5 172v7M486 153.5h7M489.5 150v7M444 168.5h7M447.5 165v7M106 183.5h7M109.5 180v7M510 185.5h7M513.5 182v7M428 172.5h7M431.5 169v7M246 188.5h7M249.5 185v7M235 175.5h7M238.5 172v7M88 176.5h7M91.5 173v7M211 199.5h7M214.5 196v7M141 169.5h7M144.5 166v7M221 193.5h7M224.5 190v7M153 159.5h7M156.5 156v7M79 173.5h7M82.5 170v7M490 153.5h7M493.5 150v7M487 156.5h7M490.5 153v7M164 145.5h7M167.5 142v7M157 146.5h7M160.5 143v7M543 174.5h7M546.5 171v7M88 172.5h7M91.5 169v7M102 166.5h7M105.5 163v7M74 166.5h7M77.5 163v7M104 154.5h7M107.5 151v7M560 162.5h7M563.5 159v7M105 173.5h7M108.5 170v7M192 193.5h7M195.5 190v7M435 139.5h7M438.5 136v7M89 149.5h7M92.5 146v7M183 160.5h7M186.5 157v7M104 183.5h7M107.5 180v7M427 171.5h7M430.5 168v7M430 171.5h7M433.5 168v7M231 175.5h7M234.5 172v7M125 159.5h7M128.5 156v7M284 172.5h7M287.5 169v7M167 169.5h7M170.5 166v7M174 143.5h7M177.5 140v7M86 149.5h7M89.5 146v7M73 177.5h7M76.5 174v7M443 141.5h7M446.5 138v7M182 180.5h7M185.5 177v7M142 171.5h7M145.5 168v7M543 171.5h7M546.5 168v7M198 195.5h7M201.5 192v7M485 175.5h7M488.5 172v7M153 179.5h7M156.5 176v7M156 175.5h7M159.5 172v7M269 171.5h7M272.5 168v7M258 180.5h7M261.5 177v7M162 166.5h7M165.5 163v7M207 198.5h7M210.5 195v7M169 175.5h7M172.5 172v7M225 176.5h7M228.5 173v7M492 169.5h7M495.5 166v7M74 167.5h7M77.5 164v7M114 174.5h7M117.5 171v7M101 181.5h7M104.5 178v7M176 168.5h7M179.5 165v7M435 144.5h7M438.5 141v7M168 144.5h7M171.5 141v7M537 166.5h7M540.5 163v7M488 160.5h7M491.5 157v7M157 163.5h7M160.5 160v7M543 164.5h7M546.5 161v7M490 164.5h7M493.5 161v7M511 189.5h7M514.5 186v7M98 160.5h7M101.5 157v7M87 147.5h7M90.5 144v7M439 170.5h7M442.5 167v7M230 190.5h7M233.5 187v7M79 191.5h7M82.5 188v7M420 137.5h7M423.5 134v7M431 179.5h7M434.5 176v7M214 178.5h7M217.5 175v7M81 189.5h7M84.5 186v7M233 173.5h7M236.5 170v7M515 193.5h7M518.5 190v7M220 177.5h7M223.5 174v7M447 137.5h7M450.5 134v7M170 155.5h7M173.5 152v7M202 196.5h7M205.5 193v7M501 185.5h7M504.5 182v7M107 130.5h7M110.5 127v7M442 136.5h7M445.5 133v7M253 180.5h7M256.5 177v7M107 136.5h7M110.5 133v7M432 179.5h7M435.5 176v7M277 171.5h7M280.5 168v7M206 198.5h7M209.5 195v7M427 134.5h7M430.5 131v7M242 183.5h7M245.5 180v7M222 192.5h7M225.5 189v7M250 180.5h7M253.5 177v7M449 134.5h7M452.5 131v7M79 172.5h7M82.5 169v7M187 166.5h7M190.5 163v7M270 186.5h7M273.5 183v7M538 177.5h7M541.5 174v7M115 148.5h7M118.5 145v7M448 171.5h7M451.5 168v7M419 163.5h7M422.5 160v7M179 164.5h7M182.5 161v7M83 181.5h7M86.5 178v7M157 147.5h7M160.5 144v7M489 161.5h7M492.5 158v7M97 151.5h7M100.5 148v7M97 180.5h7M100.5 177v7M196 194.5h7M199.5 191v7M452 167.5h7M455.5 164v7M284 189.5h7M287.5 186v7M113 137.5h7M116.5 134v7M82 188.5h7M85.5 185v7M484 173.5h7M487.5 170v7M151 163.5h7M154.5 160v7M75 190.5h7M78.5 187v7M248 187.5h7M251.5 184v7M172 175.5h7M175.5 172v7M248 174.5h7M251.5 171v7M535 173.5h7M538.5 170v7M97 175.5h7M100.5 172v7M221 173.5h7M224.5 170v7M276 171.5h7M279.5 168v7M237 191.5h7M240.5 188v7M73 182.5h7M76.5 179v7M190 190.5h7M193.5 187v7M487 159.5h7M490.5 156v7M447 172.5h7M450.5 169v7M107 138.5h7M110.5 135v7M443 146.5h7M446.5 143v7M111 130.5h7M114.5 127v7M269 173.5h7M272.5 170v7M522 192.5h7M525.5 189v7M146 154.5h7M149.5 151v7M428 178.5h7M431.5 175v7M499 172.5h7M502.5 169v7M447 148.5h7M450.5 145v7M263 184.5h7M266.5 181v7M434 144.5h7M437.5 141v7M440 137.5h7M443.5 134v7M538 178.5h7M541.5 175v7M137 167.5h7M140.5 164v7M235 185.5h7M238.5 182v7M436 144.5h7M439.5 141v7M226 187.5h7M229.5 184v7M423 168.5h7M426.5 165v7M127 159.5h7M130.5 156v7M189 189.5h7M192.5 186v7M105 183.5h7M108.5 180v7M498 170.5h7M501.5 167v7M439 144.5h7M442.5 141v7M240 183.5h7M243.5 180v7M145 156.5h7M148.5 153v7M283 189.5h7M286.5 186v7M419 160.5h7M422.5 157v7M419 161.5h7M422.5 158v7M420 164.5h7M423.5 161v7M420 161.5h7M423.5 158v7M422 165.5h7M425.5 162v7M422 166.5h7M425.5 163v7M236 174.5h7M239.5 171v7M237 174.5h7M240.5 171v7M239 174.5h7M242.5 171v7M240 174.5h7M243.5 171v7M243 174.5h7M246.5 171v7M245 174.5h7M248.5 171v7M246 174.5h7M249.5 171v7M247 174.5h7M250.5 171v7M232 175.5h7M235.5 172v7M233 175.5h7M236.5 172v7M234 175.5h7M237.5 172v7M236 175.5h7M239.5 172v7M237 175.5h7M240.5 172v7M238 175.5h7M241.5 172v7M239 175.5h7M242.5 172v7M241 175.5h7M244.5 172v7M218 85.5h7M221.5 82v7M219 84.5h7M222.5 81v7M220 84.5h7M223.5 81v7M221 84.5h7M224.5 81v7M222 84.5h7M225.5 81v7M223 84.5h7M226.5 81v7M224 84.5h7M227.5 81v7M225 84.5h7M228.5 81v7M226 83.5h7M229.5 80v7M227 83.5h7M230.5 80v7M228 83.5h7M231.5 80v7M229 82.5h7M232.5 79v7M230 82.5h7M233.5 79v7M231 82.5h7M234.5 79v7M232 83.5h7M235.5 80v7M233 83.5h7M236.5 80v7M234 83.5h7M237.5 80v7M235 83.5h7M238.5 80v7M236 84.5h7M239.5 81v7M237 84.5h7M240.5 81v7M238 85.5h7M241.5 82v7M239 85.5h7M242.5 82v7M240 86.5h7M243.5 83v7M241 86.5h7M244.5 83v7M242 86.5h7M245.5 83v7M243 87.5h7M246.5 84v7M244 87.5h7M247.5 84v7M245 87.5h7M248.5 84v7M246 88.5h7M249.5 85v7M247 88.5h7M250.5 85v7M248 89.5h7M251.5 86v7M249 90.5h7M252.5 87v7M250 90.5h7M253.5 87v7M251 91.5h7M254.5 88v7M252 92.5h7M255.5 89v7M253 93.5h7M256.5 90v7M254 93.5h7M257.5 90v7M255 94.5h7M258.5 91v7M256 95.5h7M259.5 92v7M257 96.5h7M260.5 93v7M257 97.5h7M260.5 94v7M258 98.5h7M261.5 95v7M259 99.5h7M262.5 96v7M260 100.5h7M263.5 97v7M261 101.5h7M264.5 98v7M262 102.5h7M265.5 99v7M263 103.5h7M266.5 100v7M263 104.5h7M266.5 101v7M264 105.5h7M267.5 102v7M265 106.5h7M268.5 103v7M266 107.5h7M269.5 104v7M266 108.5h7M269.5 105v7M267 109.5h7M270.5 106v7M268 110.5h7M271.5 107v7M268 111.5h7M271.5 108v7M269 112.5h7M272.5 109v7M270 113.5h7M273.5 110v7M270 114.5h7M273.5 111v7M271 115.5h7M274.5 112v7M272 116.5h7M275.5 113v7M272 117.5h7M275.5 114v7M273 118.5h7M276.5 115v7M273 119.5h7M276.5 116v7M274 120.5h7M277.5 117v7M275 121.5h7M278.5 118v7M275 122.5h7M278.5 119v7M276 123.5h7M279.5 120v7M276 124.5h7M279.5 121v7M219 86.5h7M222.5 83v7M219 85.5h7M222.5 82v7M220 85.5h7M223.5 82v7M221 85.5h7M224.5 82v7M222 85.5h7M225.5 82v7M223 85.5h7M226.5 82v7M224 85.5h7M227.5 82v7M225 85.5h7M228.5 82v7M286 210.5h7M289.5 207v7M287 209.5h7M290.5 206v7M288 208.5h7M291.5 205v7M288 207.5h7M291.5 204v7M289 206.5h7M292.5 203v7M290 206.5h7M293.5 203v7M291 205.5h7M294.5 202v7M292 204.5h7M295.5 201v7M287 210.5h7M290.5 207v7M289 208.5h7M292.5 205v7M290 207.5h7M293.5 204v7M291 206.5h7M294.5 203v7M292 205.5h7M295.5 202v7M310 255.5h7M313.5 252v7M309 256.5h7M312.5 253v7M309 257.5h7M312.5 254v7M308 258.5h7M311.5 255v7M308 259.5h7M311.5 256v7M307 260.5h7M310.5 257v7M307 261.5h7M310.5 258v7M306 262.5h7M309.5 259v7M305 263.5h7M308.5 260v7M305 264.5h7M308.5 261v7M304 265.5h7M307.5 262v7M304 266.5h7M307.5 263v7M303 267.5h7M306.5 264v7M303 268.5h7M306.5 265v7M302 269.5h7M305.5 266v7M301 270.5h7M304.5 267v7M301 271.5h7M304.5 268v7M300 272.5h7M303.5 269v7M300 273.5h7M303.5 270v7M299 274.5h7M302.5 271v7M299 275.5h7M302.5 272v7M298 276.5h7M301.5 273v7M298 277.5h7M301.5 274v7M297 278.5h7M300.5 275v7M296 279.5h7M299.5 276v7M296 280.5h7M299.5 277v7M295 281.5h7M298.5 278v7M305 306.5h7M308.5 303v7M304 307.5h7M307.5 304v7M304 308.5h7M307.5 305v7M304 309.5h7M307.5 306v7M304 310.5h7M307.5 307v7M303 311.5h7M306.5 308v7M303 312.5h7M306.5 309v7M303 313.5h7M306.5 310v7M303 314.5h7M306.5 311v7M302 315.5h7M305.5 312v7M302 316.5h7M305.5 313v7M302 317.5h7M305.5 314v7M302 318.5h7M305.5 315v7M301 319.5h7M304.5 316v7M301 320.5h7M304.5 317v7M301 321.5h7M304.5 318v7M301 322.5h7M304.5 319v7M300 323.5h7M303.5 320v7M300 324.5h7M303.5 321v7M300 325.5h7M303.5 322v7M300 326.5h7M303.5 323v7M300 327.5h7M303.5 324v7M299 328.5h7M302.5 325v7M299 329.5h7M302.5 326v7M299 330.5h7M302.5 327v7M299 331.5h7M302.5 328v7M298 332.5h7M301.5 329v7M298 333.5h7M301.5 330v7M298 334.5h7M301.5 331v7M298 335.5h7M301.5 332v7M297 336.5h7M300.5 333v7M297 337.5h7M300.5 334v7M297 338.5h7M300.5 335v7M297 339.5h7M300.5 336v7M296 340.5h7M299.5 337v7M296 341.5h7M299.5 338v7M296 342.5h7M299.5 339v7M296 343.5h7M299.5 340v7M295 344.5h7M298.5 341v7M295 345.5h7M298.5 342v7M295 346.5h7M298.5 343v7M303 310.5h7M306.5 307v7M302 314.5h7M305.5 311v7M298 336.5h7M301.5 333v7M297 340.5h7M300.5 337v7M292 314.5h7M295.5 311v7M291 315.5h7M294.5 312v7M291 316.5h7M294.5 313v7M290 317.5h7M293.5 314v7M289 318.5h7M292.5 315v7M289 319.5h7M292.5 316v7M288 320.5h7M291.5 317v7M287 321.5h7M290.5 318v7M287 322.5h7M290.5 319v7M286 323.5h7M289.5 320v7M293 315.5h7M296.5 312v7M292 316.5h7M295.5 313v7M291 317.5h7M294.5 314v7M291 318.5h7M294.5 315v7M290 319.5h7M293.5 316v7M289 320.5h7M292.5 317v7M288 321.5h7M291.5 318v7M287 323.5h7M290.5 320v7M292 372.5h7M295.5 369v7M292 373.5h7M295.5 370v7M291 374.5h7M294.5 371v7M291 375.5h7M294.5 372v7M291 376.5h7M294.5 373v7M291 377.5h7M294.5 374v7M291 378.5h7M294.5 375v7M290 379.5h7M293.5 376v7M290 380.5h7M293.5 377v7M290 381.5h7M293.5 378v7M290 382.5h7M293.5 379v7M289 383.5h7M292.5 380v7M289 384.5h7M292.5 381v7M289 385.5h7M292.5 382v7M289 386.5h7M292.5 383v7M289 387.5h7M292.5 384v7M288 388.5h7M291.5 385v7M288 389.5h7M291.5 386v7M288 390.5h7M291.5 387v7M288 391.5h7M291.5 388v7M288 392.5h7M291.5 389v7M287 393.5h7M290.5 390v7M287 394.5h7M290.5 391v7M287 395.5h7M290.5 392v7M287 396.5h7M290.5 393v7M287 397.5h7M290.5 394v7M286 398.5h7M289.5 395v7M286 399.5h7M289.5 396v7M286 400.5h7M289.5 397v7M286 401.5h7M289.5 398v7M286 402.5h7M289.5 399v7M292 374.5h7M295.5 371v7M292 375.5h7M295.5 372v7M291 379.5h7M294.5 376v7M291 380.5h7M294.5 377v7M290 383.5h7M293.5 380v7M290 384.5h7M293.5 381v7M290 385.5h7M293.5 382v7M289 388.5h7M292.5 385v7M289 389.5h7M292.5 386v7M289 390.5h7M292.5 387v7M288 393.5h7M291.5 390v7M288 394.5h7M291.5 391v7M288 395.5h7M291.5 392v7M287 398.5h7M290.5 395v7M287 399.5h7M290.5 396v7M287 400.5h7M290.5 397v7M326 193.5h7M329.5 190v7M325 194.5h7M328.5 191v7M325 195.5h7M328.5 192v7M324 195.5h7M327.5 192v7M324 196.5h7M327.5 193v7M323 197.5h7M326.5 194v7M323 198.5h7M326.5 195v7M322 199.5h7M325.5 196v7M322 200.5h7M325.5 197v7M315 165.5h7M318.5 162v7M316 164.5h7M319.5 161v7M317 164.5h7M320.5 161v7M318 164.5h7M321.5 161v7M319 163.5h7M322.5 160v7M320 163.5h7M323.5 160v7M321 163.5h7M324.5 160v7M322 163.5h7M325.5 160v7M323 163.5h7M326.5 160v7M324 162.5h7M327.5 159v7M325 162.5h7M328.5 159v7M326 162.5h7M329.5 159v7M319 166.5h7M322.5 163v7M320 166.5h7M323.5 163v7M321 166.5h7M324.5 163v7M322 166.5h7M325.5 163v7M323 166.5h7M326.5 163v7M324 166.5h7M327.5 163v7M325 166.5h7M328.5 163v7M326 166.5h7M329.5 163v7M323 168.5h7M326.5 165v7M324 167.5h7M327.5 164v7M325 167.5h7M328.5 164v7M318 163.5h7M321.5 160v7M318 162.5h7M321.5 159v7M319 162.5h7M322.5 159v7M320 162.5h7M323.5 159v7M321 162.5h7M324.5 159v7M322 162.5h7M325.5 159v7M323 161.5h7M326.5 158v7M324 161.5h7M327.5 158v7M457 144.5h7M460.5 141v7M457 145.5h7M460.5 142v7M458 146.5h7M461.5 143v7M459 146.5h7M462.5 143v7M459 147.5h7M462.5 144v7M460 148.5h7M463.5 145v7M461 149.5h7M464.5 146v7M460 161.5h7M463.5 158v7M459 162.5h7M462.5 159v7M458 162.5h7M461.5 159v7M457 163.5h7M460.5 160v7M457 164.5h7M460.5 161v7M483 132.5h7M486.5 129v7M484 133.5h7M487.5 130v7M484 134.5h7M487.5 131v7M485 135.5h7M488.5 132v7M486 136.5h7M489.5 133v7M486 137.5h7M489.5 134v7M487 138.5h7M490.5 135v7M488 139.5h7M491.5 136v7M488 140.5h7M491.5 137v7M489 141.5h7M492.5 138v7M490 142.5h7M493.5 139v7M490 143.5h7M493.5 140v7M491 144.5h7M494.5 141v7M498 155.5h7M501.5 152v7M499 155.5h7M502.5 152v7M500 156.5h7M503.5 153v7M500 157.5h7M503.5 154v7M501 158.5h7M504.5 155v7M502 159.5h7M505.5 156v7M503 160.5h7M506.5 157v7M500 155.5h7M503.5 152v7M501 157.5h7M504.5 154v7M502 158.5h7M505.5 155v7M503 159.5h7M506.5 156v7M508 144.5h7M511.5 141v7M508 145.5h7M511.5 142v7M509 146.5h7M512.5 143v7M510 147.5h7M513.5 144v7M510 148.5h7M513.5 145v7M511 149.5h7M514.5 146v7M511 150.5h7M514.5 147v7M512 151.5h7M515.5 148v7M513 152.5h7M516.5 149v7M513 153.5h7M516.5 150v7M514 154.5h7M517.5 151v7M515 155.5h7M518.5 152v7M516 156.5h7M519.5 153v7M516 157.5h7M519.5 154v7M517 158.5h7M520.5 155v7M517 159.5h7M520.5 156v7M518 160.5h7M521.5 157v7M519 161.5h7M522.5 158v7M519 162.5h7M522.5 159v7M520 163.5h7M523.5 160v7M520 164.5h7M523.5 161v7M521 165.5h7M524.5 162v7M522 166.5h7M525.5 163v7M522 167.5h7M525.5 164v7M509 147.5h7M512.5 144v7M509 148.5h7M512.5 145v7M510 149.5h7M513.5 146v7M510 150.5h7M513.5 147v7M511 151.5h7M514.5 148v7M512 152.5h7M515.5 149v7M512 153.5h7M515.5 150v7M513 154.5h7M516.5 151v7M513 155.5h7M516.5 152v7M514 156.5h7M517.5 153v7M515 157.5h7M518.5 154v7M515 158.5h7M518.5 155v7M516 159.5h7M519.5 156v7M517 160.5h7M520.5 157v7M518 161.5h7M521.5 158v7M518 162.5h7M521.5 159v7M519 163.5h7M522.5 160v7M520 165.5h7M523.5 162v7M521 166.5h7M524.5 163v7M508 169.5h7M511.5 166v7M509 169.5h7M512.5 166v7M510 170.5h7M513.5 167v7M511 171.5h7M514.5 168v7M512 171.5h7M515.5 168v7M513 172.5h7M516.5 169v7M514 173.5h7M517.5 170v7M515 173.5h7M518.5 170v7M516 174.5h7M519.5 171v7M517 175.5h7M520.5 172v7M518 176.5h7M521.5 173v7M519 177.5h7M522.5 174v7M520 177.5h7M523.5 174v7M521 178.5h7M524.5 175v7M522 179.5h7M525.5 176v7M508 170.5h7M511.5 167v7M509 171.5h7M512.5 168v7M510 172.5h7M513.5 169v7M511 172.5h7M514.5 169v7M512 173.5h7M515.5 170v7M513 174.5h7M516.5 171v7M514 175.5h7M517.5 172v7M515 175.5h7M518.5 172v7M516 176.5h7M519.5 173v7M517 177.5h7M520.5 174v7M518 178.5h7M521.5 175v7M519 178.5h7M522.5 175v7M520 179.5h7M523.5 176v7M521 180.5h7M524.5 177v7M510 169.5h7M513.5 166v7M511 170.5h7M514.5 167v7M513 171.5h7M516.5 168v7M514 172.5h7M517.5 169v7M516 173.5h7M519.5 170v7M517 174.5h7M520.5 171v7M518 175.5h7M521.5 172v7M519 175.5h7M522.5 172v7M520 176.5h7M523.5 173v7M521 177.5h7M524.5 174v7M522 178.5h7M525.5 175v7M107 133.5h7M110.5 130v7M107 137.5h7M110.5 134v7M107 140.5h7M110.5 137v7M106 145.5h7M109.5 142v7M106 147.5h7M109.5 144v7M71 171.5h7M74.5 168v7M70 172.5h7M73.5 169v7M71 178.5h7M74.5 175v7M71 189.5h7M74.5 186v7M72 182.5h7M75.5 179v7M72 183.5h7M75.5 180v7M72 184.5h7M75.5 181v7M72 185.5h7M75.5 182v7M72 175.5h7M75.5 172v7M73 187.5h7M76.5 184v7M285 172.5h7M288.5 169v7M285 179.5h7M288.5 176v7M285 186.5h7M288.5 183v7M268 172.5h7M271.5 169v7M94 147.5h7M97.5 144v7M107 187.5h7M110.5 184v7M107 190.5h7M110.5 187v7M107 193.5h7M110.5 190v7M107 196.5h7M110.5 193v7M107 198.5h7M110.5 195v7M147 140.5h7M150.5 137v7M147 143.5h7M150.5 140v7M147 147.5h7M150.5 144v7M147 150.5h7M150.5 147v7M161 155.5h7M164.5 152v7M161 158.5h7M164.5 155v7M161 161.5h7M164.5 158v7M292 189.5h7M295.5 186v7M295 290.5h7M298.5 287v7M294 291.5h7M297.5 288v7M292 301.5h7M295.5 298v7M292 352.5h7M295.5 349v7M294 355.5h7M297.5 352v7M294 356.5h7M297.5 353v7M294 357.5h7M297.5 354v7M294 358.5h7M297.5 355v7M294 359.5h7M297.5 356v7M296 355.5h7M299.5 352v7M295 355.5h7M298.5 352v7M354 151.5h7M357.5 148v7M355 152.5h7M358.5 149v7M354 152.5h7M357.5 149v7M355 151.5h7M358.5 148v7M356 130.5h7M359.5 127v7M355 131.5h7M358.5 128v7M354 131.5h7M357.5 128v7M354 132.5h7M357.5 129v7M353 132.5h7M356.5 129v7M356 137.5h7M359.5 134v7M355 138.5h7M358.5 135v7M354 138.5h7M357.5 135v7M354 139.5h7M357.5 136v7M353 140.5h7M356.5 137v7M353 151.5h7M356.5 148v7M371 122.5h7M374.5 119v7M371 126.5h7M374.5 123v7M371 130.5h7M374.5 127v7M371 133.5h7M374.5 130v7M376 125.5h7M379.5 122v7M376 129.5h7M379.5 126v7M376 130.5h7M379.5 127v7M376 139.5h7M379.5 136v7M377 130.5h7M380.5 127v7M377 131.5h7M380.5 128v7M377 140.5h7M380.5 137v7M480 130.5h7M483.5 127v7M472 152.5h7M475.5 149v7M472 157.5h7M475.5 154v7M480 152.5h7M483.5 149v7M480 157.5h7M483.5 154v7M483 155.5h7M486.5 152v7M483 159.5h7M486.5 156v7M550 151.5h7M553.5 148v7" stroke="#ff0000" stroke-width="1" fill="none" shape-rendering="crispEdges"/>
<path d="M74 57.5H610M74 419.5H610M74.5 57V420M609.5 57V420" stroke="#000" stroke-width="1" fill="none" shape-rendering="crispEdges"/>
<g font-family="Liberation Sans, sans-serif" font-size="16px" fill="#000">
<text x="338.5" y="33" text-anchor="middle" textLength="586.5" lengthAdjust="spacing">Day 319 of 2017, Sidereal Day-to-day VTEC variation (SDTVAR) for receiver amte</text>
<text x="61.5" y="62.5" text-anchor="end">30</text>
<text x="61.5" y="102.5" text-anchor="end">20</text>
<text x="61.5" y="142.5" text-anchor="end">10</text>
<text x="61.5" y="183.5" text-anchor="end">0</text>
<text x="61.5" y="223.5" text-anchor="end">-10</text>
<text x="61.5" y="263.5" text-anchor="end">-20</text>
<text x="61.5" y="303.5" text-anchor="end">-30</text>
<text x="61.5" y="344.5" text-anchor="end">-40</text>
<text x="61.5" y="384.5" text-anchor="end">-50</text>
<text x="61.5" y="424.5" text-anchor="end">-60</text>
<text x="74" y="443" text-anchor="middle">0</text>
<text x="181" y="443" text-anchor="middle">5</text>
<text x="288" y="443" text-anchor="middle">10</text>
<text x="395" y="443" text-anchor="middle">15</text>
<text x="502" y="443" text-anchor="middle">20</text>
<text x="609" y="443" text-anchor="middle">25</text>
<text x="339.5" y="471" text-anchor="middle">GPS time / hours</text>
<text transform="translate(19 239.5) rotate(-90)" text-anchor="middle">SDTVAR / TECUs</text>
</g></svg>
</body></html>
